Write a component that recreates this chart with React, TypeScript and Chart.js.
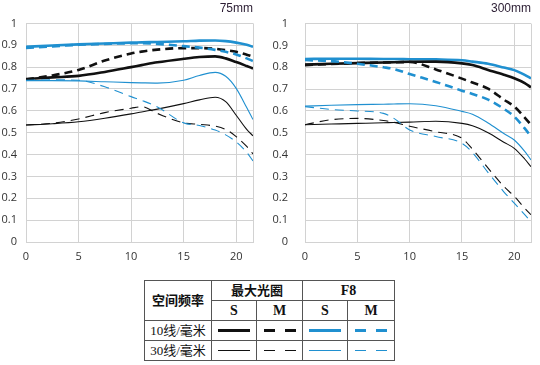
import React, { useEffect, useRef } from 'react';
import { Chart, registerables } from 'chart.js';
Chart.register(...registerables);

// ---- data ----
const FREQ_75 = [0, 2.5, 5, 7.5, 10, 11, 12.5, 15, 16.5, 18, 19, 20, 21, 21.6];
const MAX_S10_75 = [0.745, 0.753, 0.760, 0.778, 0.800, 0.809, 0.822, 0.838, 0.846, 0.849, 0.840, 0.823, 0.805, 0.794];
const MAX_M10_75 = [0.743, 0.762, 0.787, 0.830, 0.862, 0.871, 0.880, 0.887, 0.887, 0.884, 0.878, 0.870, 0.857, 0.848];
const F8_S10_75 = [0.893, 0.899, 0.904, 0.908, 0.912, 0.913, 0.915, 0.918, 0.921, 0.922, 0.919, 0.912, 0.902, 0.893];
const F8_M10_75 = [0.888, 0.895, 0.902, 0.906, 0.909, 0.909, 0.906, 0.896, 0.889, 0.879, 0.870, 0.858, 0.840, 0.828];
const MAX_S30_75 = [0.535, 0.541, 0.550, 0.566, 0.586, 0.595, 0.608, 0.633, 0.650, 0.662, 0.642, 0.580, 0.515, 0.486];
const MAX_M30_75 = [0.535, 0.543, 0.563, 0.592, 0.612, 0.619, 0.588, 0.545, 0.538, 0.530, 0.515, 0.482, 0.437, 0.403];
const F8_S30_75 = [0.738, 0.738, 0.737, 0.733, 0.729, 0.728, 0.727, 0.740, 0.762, 0.776, 0.758, 0.703, 0.615, 0.560];
const F8_M30_75 = [0.740, 0.742, 0.740, 0.710, 0.665, 0.648, 0.618, 0.545, 0.533, 0.512, 0.490, 0.458, 0.410, 0.371];

const FREQ_300 = [0, 2.5, 5, 7.5, 8.5, 10, 12.5, 15, 16, 17.5, 19, 20, 21, 21.6];
const MAX_S10_300 = [0.812, 0.816, 0.819, 0.822, 0.823, 0.825, 0.826, 0.818, 0.810, 0.788, 0.766, 0.750, 0.728, 0.708];
const MAX_M10_300 = [0.810, 0.815, 0.819, 0.822, 0.823, 0.824, 0.790, 0.748, 0.730, 0.702, 0.652, 0.620, 0.570, 0.536];
const F8_S10_300 = [0.838, 0.839, 0.839, 0.838, 0.838, 0.837, 0.836, 0.832, 0.826, 0.816, 0.799, 0.787, 0.765, 0.749];
const F8_M10_300 = [0.833, 0.828, 0.816, 0.800, 0.792, 0.769, 0.733, 0.693, 0.678, 0.652, 0.610, 0.574, 0.520, 0.483];
const MAX_S30_300 = [0.537, 0.540, 0.543, 0.546, 0.547, 0.549, 0.553, 0.543, 0.532, 0.500, 0.457, 0.429, 0.380, 0.345];
const MAX_M30_300 = [0.537, 0.560, 0.566, 0.556, 0.548, 0.530, 0.505, 0.475, 0.425, 0.338, 0.255, 0.209, 0.155, 0.125];
const F8_S30_300 = [0.622, 0.626, 0.629, 0.631, 0.632, 0.633, 0.624, 0.598, 0.585, 0.545, 0.497, 0.467, 0.415, 0.376];
const F8_M30_300 = [0.620, 0.607, 0.600, 0.589, 0.566, 0.513, 0.483, 0.452, 0.410, 0.318, 0.230, 0.178, 0.125, 0.094];

const X_TICKS = [0, 5, 10, 15, 20, 21.6];
const X_MAX = 21.6;

const BLACK = '#111111';
const BLUE = '#2090d0';
const GRID = '#d2d2d2';

type Spec = { values: number[]; color: string; thick: boolean; dashed: boolean };

function makeSeries(freq: number[], s: Spec) {
  return {
    data: freq.map((x, i) => ({ x, y: s.values[i] })),
    borderColor: s.color,
    borderWidth: s.thick ? 2.6 : 1.1,
    borderDash: s.dashed ? (s.thick ? [8, 5] : [9, 6]) : [],
    pointRadius: 0,
    fill: false,
    tension: 0.4,
    cubicInterpolationMode: 'monotone' as const,
  };
}

function MtfChart(props: {
  title: string;
  freq: number[];
  specs: Spec[];
  left: number;
  yAxisWidth: number;
  yPad: number;
  padRight: number;
}) {
  const ref = useRef<HTMLCanvasElement | null>(null);
  useEffect(() => {
    if (!ref.current) return;
    const chart = new Chart(ref.current, {
      type: 'line',
      data: { datasets: props.specs.map((s) => makeSeries(props.freq, s)) as any },
      options: {
        animation: false,
        responsive: false,
        devicePixelRatio: 1,
        layout: { padding: { left: 0, right: props.padRight, top: 0, bottom: 0 } },
        plugins: {
          legend: { display: false },
          tooltip: { enabled: false },
          title: {
            display: true,
            text: props.title,
            align: 'end',
            color: '#2b1d33',
            font: { family: 'Liberation Sans', size: 12, weight: 'normal' },
            padding: { top: 1, bottom: 8 },
          },
        },
        scales: {
          x: {
            type: 'linear',
            min: 0,
            max: X_MAX,
            afterBuildTicks: (scale: any) => {
              scale.ticks = X_TICKS.map((v) => ({ value: v }));
            },
            afterFit: (scale: any) => {
              scale.height = 28;
            },
            ticks: {
              callback: (v: any) => (Number(v) % 5 === 0 ? String(v) : ''),
              color: '#333',
              font: { family: 'Open Sans', size: 11 },
              padding: 8,
              maxRotation: 0,
              autoSkip: false,
            },
            grid: { color: GRID, lineWidth: 1, drawTicks: false },
            border: { color: GRID, width: 1 },
          },
          y: {
            min: 0,
            max: 1,
            afterFit: (scale: any) => {
              scale.width = props.yAxisWidth;
            },
            ticks: {
              stepSize: 0.1,
              callback: (v: any) => String(Math.round(Number(v) * 10) / 10),
              color: '#333',
              font: { family: 'Open Sans', size: 11 },
              padding: props.yPad,
            },
            grid: { color: GRID, lineWidth: 1, drawTicks: false },
            border: { color: GRID, width: 1 },
          },
        },
      } as any,
    });
    return () => chart.destroy();
  }, []);
  return (
    <canvas
      ref={ref}
      width={270}
      height={270}
      style={{ position: 'absolute', left: props.left, top: 0, width: 270, height: 270 }}
    />
  );
}

const specs75: Spec[] = [
  { values: F8_S30_75, color: BLUE, thick: false, dashed: false },
  { values: F8_M30_75, color: BLUE, thick: false, dashed: true },
  { values: MAX_S30_75, color: BLACK, thick: false, dashed: false },
  { values: MAX_M30_75, color: BLACK, thick: false, dashed: true },
  { values: F8_M10_75, color: BLUE, thick: true, dashed: true },
  { values: F8_S10_75, color: BLUE, thick: true, dashed: false },
  { values: MAX_M10_75, color: BLACK, thick: true, dashed: true },
  { values: MAX_S10_75, color: BLACK, thick: true, dashed: false },
];

const specs300: Spec[] = [
  { values: F8_S30_300, color: BLUE, thick: false, dashed: false },
  { values: F8_M30_300, color: BLUE, thick: false, dashed: true },
  { values: MAX_S30_300, color: BLACK, thick: false, dashed: false },
  { values: MAX_M30_300, color: BLACK, thick: false, dashed: true },
  { values: F8_M10_300, color: BLUE, thick: true, dashed: true },
  { values: MAX_M10_300, color: BLACK, thick: true, dashed: true },
  { values: MAX_S10_300, color: BLACK, thick: true, dashed: false },
  { values: F8_S10_300, color: BLUE, thick: true, dashed: false },
];

function Sample(props: { color: string; thick: boolean; dashed: boolean }) {
  const h = props.thick ? 3 : 1;
  if (!props.dashed) {
    return <div style={{ width: 32, height: h, background: props.color, margin: '0 auto' }} />;
  }
  return (
    <div style={{ width: 32, height: h, margin: '0 auto', display: 'flex', justifyContent: 'space-between' }}>
      <div style={{ width: 11, height: h, background: props.color }} />
      <div style={{ width: 11, height: h, background: props.color }} />
    </div>
  );
}

const ROW_LABELS = ['10线/毫米', '30线/毫米'];

function LegendTable() {
  const bd = '1px solid #555';
  const cell: React.CSSProperties = { border: bd, padding: 0, textAlign: 'center', verticalAlign: 'middle', lineHeight: '16px' };
  const font = '"Liberation Serif", "Noto Sans CJK SC", serif';
  const head: React.CSSProperties = { ...cell, fontWeight: 'bold', fontSize: 13 };
  return (
    <table
      style={{
        position: 'absolute',
        left: 144,
        top: 280,
        width: 250,
        height: 81,
        borderCollapse: 'collapse',
        fontFamily: font,
        fontSize: 13,
        color: '#111',
        tableLayout: 'fixed',
      }}
    >
      <colgroup>
        <col style={{ width: 67 }} />
        <col style={{ width: 45 }} />
        <col style={{ width: 46 }} />
        <col style={{ width: 45 }} />
        <col style={{ width: 47 }} />
      </colgroup>
      <tbody>
        <tr style={{ height: 20 }}>
          <td rowSpan={2} style={head}>空间频率</td>
          <td colSpan={2} style={head}>最大光圈</td>
          <td colSpan={2} style={{ ...head, fontSize: 14 }}>F8</td>
        </tr>
        <tr style={{ height: 20 }}>
          <td style={{ ...head, fontSize: 14 }}>S</td>
          <td style={{ ...head, fontSize: 14 }}>M</td>
          <td style={{ ...head, fontSize: 14 }}>S</td>
          <td style={{ ...head, fontSize: 14 }}>M</td>
        </tr>
        {ROW_LABELS.map((label, i) => (
          <tr key={label} style={{ height: 20 }}>
            <td style={{ ...cell, fontSize: 13 }}>{label}</td>
            <td style={cell}><Sample color={BLACK} thick={i === 0} dashed={false} /></td>
            <td style={cell}><Sample color={BLACK} thick={i === 0} dashed={true} /></td>
            <td style={cell}><Sample color={BLUE} thick={i === 0} dashed={false} /></td>
            <td style={cell}><Sample color={BLUE} thick={i === 0} dashed={true} /></td>
          </tr>
        ))}
      </tbody>
    </table>
  );
}

export default function App() {
  return (
    <div style={{ position: 'fixed', left: 0, top: 0, width: 540, height: 365, background: '#fff', overflow: 'hidden' }}>
      <MtfChart title="75mm" freq={FREQ_75} specs={specs75} left={0} yAxisWidth={26} yPad={9} padRight={17} />
      <MtfChart title="300mm" freq={FREQ_300} specs={specs300} left={270} yAxisWidth={35} yPad={17} padRight={9} />
      <LegendTable />
    </div>
  );
}
